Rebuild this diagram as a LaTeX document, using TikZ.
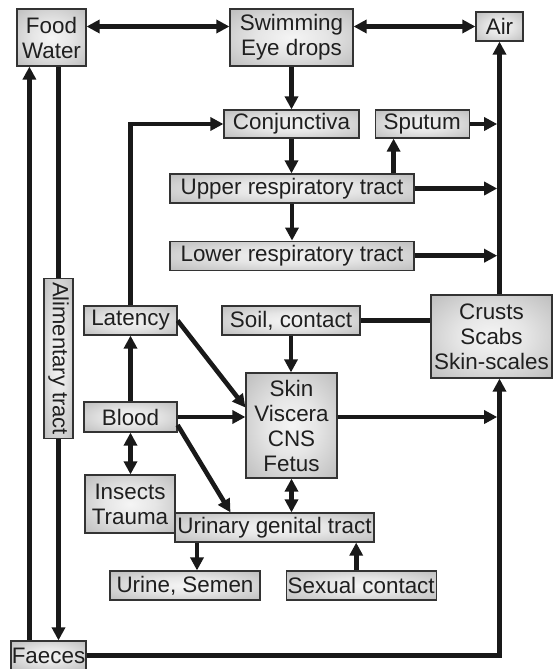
\documentclass[tikz,border=0pt]{standalone}
\usepackage{fontspec}
\setmainfont{Liberation Sans}
\usepackage{graphicx}
\usetikzlibrary{positioning, arrows.meta}

\pgfdeclareradialshading{boxglow}{\pgfpoint{0bp}{0bp}}{%
  color(0bp)=(black!4); color(14bp)=(black!10); color(50bp)=(black!36);
  color(72bp)=(black!40)}

\begin{document}
\begin{tikzpicture}[
      x=0.5pt, y=-0.5pt,
      box/.style={draw=black!80, line width=0.6pt, shading=boxglow,
        inner sep=0pt, text=black!88,
        align=center, font=\fontsize{11.2}{12.5}\selectfont},
      >={Triangle[length=6.5pt, width=6.5pt]},
      link/.style={line width=2.3pt, draw=black!90},
      flow/.style={link, ->},
      twoway/.style={link, <->},
      tospine/.style={flow, shorten >=1.15pt}]
    \useasboundingbox (0,0) rectangle (555,669);

    \node[box, minimum width=34.5pt, minimum height=28.5pt] (food) at (51.5,37.5) {Food\\Water};
    \node[box, minimum width=61.5pt, minimum height=28.5pt] (swim) at (291.5,37.5) {Swimming\\Eye drops};
    \node[box, minimum width=23.5pt, minimum height=14.5pt] (air) at (499.5,26.5) {Air};
    \node[box, minimum width=67.5pt, minimum height=14pt] (conj) at (291.5,124) {Conjunctiva};
    \node[box, minimum width=47pt, minimum height=14pt, right=7.5pt of conj] (sput) {Sputum};
    \node[box, minimum width=122pt, minimum height=14.5pt] (upper) at (292,188.5) {Upper respiratory tract};
    \node[box, minimum width=122pt, minimum height=14.5pt, below=18.5pt of upper] (lower) {Lower respiratory tract};
    \node[box, minimum width=14.5pt, minimum height=80pt, font=\fontsize{11}{12.5}\selectfont] (alim) at (58.5,358.5) {\rotatebox{-90}{Alimentary tract}};
    \node[box, minimum width=46.5pt, minimum height=14.5pt] (lat) at (130.5,320.5) {Latency};
    \node[box, minimum width=69pt, minimum height=14.5pt] (soil) at (291,320.5) {Soil, contact};
    \node[box, minimum width=60.5pt, minimum height=41.5pt] (crust) at (491.5,336.5) {Crusts\\Scabs\\Skin-scales};
    \node[box, minimum width=45.5pt, minimum height=52.5pt] (skin) at (291.5,425.5) {Skin\\Viscera\\CNS\\Fetus};
    \node[box, minimum width=46.5pt, minimum height=15pt] (blood) at (130.5,417) {Blood};
    \node[box, minimum width=45pt, minimum height=29pt] (insect) at (130,504) {Insects\\Trauma};
    \node[box, minimum width=99.5pt, minimum height=14.5pt] (urin) at (274.5,527.5) {Urinary genital tract};
    \node[box, minimum width=75pt, minimum height=14.5pt] (urine) at (185,585.5) {Urine, Semen};
    \node[box, minimum width=75pt, minimum height=14.5pt, right=12.5pt of urine] (sex) {Sexual contact};
    \node[box, minimum width=37.5pt, minimum height=14.5pt] (fae) at (48.5,655.5) {Faeces};

    \draw[twoway] (food.east |- air) -- (swim.west |- air);
    \draw[twoway] (swim.east |- air) -- (air.west);
    \draw[flow] (swim) -- (conj);
    \draw[flow] (conj) -- (conj |- upper.north);
    \draw[flow] (upper) -- (lower);
    \draw[flow] ([xshift=9.5pt]sput.south west |- upper.north) -- ([xshift=9.5pt]sput.south west);
    \draw[tospine] (sput) -- (sput -| air);
    \draw[tospine] (upper) -- (upper -| air);
    \draw[tospine] (lower) -- (lower -| air);
    \draw[flow] (air |- crust.north) -- (air);
    \draw[link] (soil) -- (soil -| crust.west);
    \draw[flow] (soil) -- (soil |- skin.north);
    \draw[flow] (lat) |- (conj);
    \draw[flow] (lat.east) -- ([yshift=9pt]skin.west);
    \draw[flow] (blood) -- (lat);
    \draw[flow] (blood) -- (blood -| skin.west);
    \draw[flow] ([yshift=-4pt]blood.east) -- ([xshift=-22pt]urin.north);
    \draw[twoway] (blood) -- (blood |- insect.north);
    \draw[tospine] (skin.east |- blood) -- (air |- blood);
    \draw[flow] (fae) -| (air |- crust.south);
    \draw[twoway] (skin) -- (skin |- urin.north);
    \draw[flow] ([xshift=6pt]urine.north |- urin.south) -- ([xshift=6pt]urine.north);
    \draw[flow] ([xshift=-2.5pt]sex.north) -- ([xshift=-2.5pt]sex.north |- urin.south);
    \draw[link] (alim |- food.south) -- (alim);
    \draw[flow] (alim) -- (alim |- fae.north);
    \draw[flow] ([xshift=6.5pt]food.south west |- fae.north) -- ([xshift=6.5pt]food.south west);
  \end{tikzpicture}
\end{document}
